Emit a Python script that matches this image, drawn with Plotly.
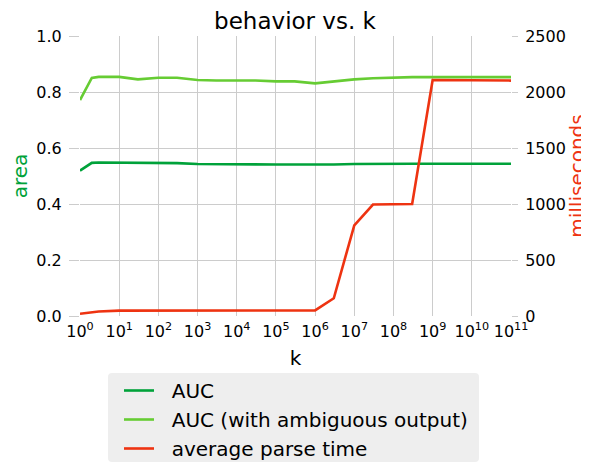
import plotly.graph_objects as go

k_values = [1, 2, 3, 10, 30, 100, 300, 1e3, 3e3, 1e4, 3e4, 1e5, 3e5, 1e6, 3e6,
            1e7, 3e7, 1e8, 3e8, 1e9, 3e9, 1e10, 3e10, 1e11]
auc = [0.519, 0.547, 0.548, 0.548, 0.548, 0.547, 0.546, 0.543, 0.542, 0.542,
       0.542, 0.541, 0.541, 0.540, 0.541, 0.543, 0.544, 0.544, 0.544, 0.544,
       0.544, 0.544, 0.544, 0.544]
auc_ambiguous = [0.771, 0.850, 0.854, 0.854, 0.845, 0.851, 0.851, 0.843, 0.841,
                 0.842, 0.841, 0.838, 0.838, 0.831, 0.838, 0.845, 0.849, 0.852,
                 0.853, 0.853, 0.853, 0.853, 0.853, 0.853]
parse_time = [20, 35, 40, 48, 48, 48, 48, 48, 48, 48, 48, 48, 48, 50, 158,
              810, 995, 998, 1000, 2107, 2107, 2106, 2105, 2102]

x_tickvals = [10 ** i for i in range(12)]
x_ticktext = ["10<sup>%d</sup>" % i for i in range(12)]
left_ticks = [0.0, 0.2, 0.4, 0.6, 0.8, 1.0]
right_ticks = [0, 500, 1000, 1500, 2000, 2500]

c_auc = "#00a23a"
c_amb = "#66cc33"
c_time = "#ee3311"
font_family = "DejaVu Sans"
gap = "\u00a0\u00a0"

W, H = 581, 460
L, R, T, B = 72, 78, 28, 152
PW, PH = W - L - R, H - T - B

fig = go.Figure()
fig.add_trace(go.Scatter(x=k_values, y=auc, mode="lines", name=gap + "AUC",
                         line=dict(color=c_auc, width=2.6)))
fig.add_trace(go.Scatter(x=k_values, y=auc_ambiguous, mode="lines",
                         name=gap + "AUC (with ambiguous output)",
                         line=dict(color=c_amb, width=2.6)))
fig.add_trace(go.Scatter(x=k_values, y=parse_time, mode="lines",
                         name=gap + "average parse time", yaxis="y2",
                         line=dict(color=c_time, width=2.6)))

# legend background box (rounded rectangle), in paper coordinates
bx0, bx1 = (100 - L) / PW, (471 - L) / PW
by0, by1 = -(365 - T - PH) / PH, -(454 - T - PH) / PH
rx, ry = 4 / PW, 4 / PH
path = ("M {a},{d} L {b},{d} Q {c},{d} {c},{e} L {c},{f} Q {c},{g} {b},{g} "
        "L {a},{g} Q {h},{g} {h},{f} L {h},{e} Q {h},{d} {a},{d} Z").format(
    a=bx0 + rx, b=bx1 - rx, c=bx1, d=by0, e=by0 - ry, f=by1 + ry, g=by1, h=bx0)
fig.add_shape(type="path", path=path, xref="paper", yref="paper",
              fillcolor="#eeeeee", line=dict(width=0), layer="below")

fig.update_layout(
    width=W, height=H,
    margin=dict(l=L, r=R, t=T, b=B, autoexpand=False),
    paper_bgcolor="white", plot_bgcolor="rgba(0,0,0,0)",
    font=dict(family=font_family, size=16, color="black"),
    title=dict(text="behavior vs. k", x=287 / W, xanchor="center",
               y=1 - 13 / H, yanchor="middle", font=dict(size=23)),
    xaxis=dict(type="log", range=[0, 11], tickvals=x_tickvals,
               ticktext=x_ticktext, showgrid=True, gridcolor="#cccccc",
               gridwidth=1, zeroline=False, showline=False,
               ticks="", tickfont=dict(size=16), automargin=False,
               ticklabelstandoff=4,
               title=dict(text="k", font=dict(size=20), standoff=10)),
    yaxis=dict(range=[0, 1], tickvals=left_ticks, tickformat=".1f",
               showgrid=True, gridcolor="#cccccc", gridwidth=1,
               zeroline=False, showline=False, ticks="outside",
               ticklen=10, tickcolor="#cccccc", tickfont=dict(size=16),
               ticklabelstandoff=4, automargin=False,
               title=dict(text="area", font=dict(size=20, color=c_auc),
                          standoff=12)),
    yaxis2=dict(range=[0, 2500], tickvals=right_ticks, overlaying="y",
                side="right", showgrid=False, zeroline=False,
                showline=False, ticks="outside", ticklen=6,
                tickcolor="#cccccc", tickfont=dict(size=16),
                ticklabelstandoff=4, automargin=False,
                title=dict(text="milliseconds",
                           font=dict(size=20, color=c_time), standoff=10)),
    legend=dict(x=(111 - L) / PW, y=-(363 - T - PH) / PH, xanchor="left",
                yanchor="top", bgcolor="rgba(0,0,0,0)", borderwidth=0,
                font=dict(size=20), itemwidth=30, tracegroupgap=0),
    showlegend=True,
)

fig.write_html("out.html")
